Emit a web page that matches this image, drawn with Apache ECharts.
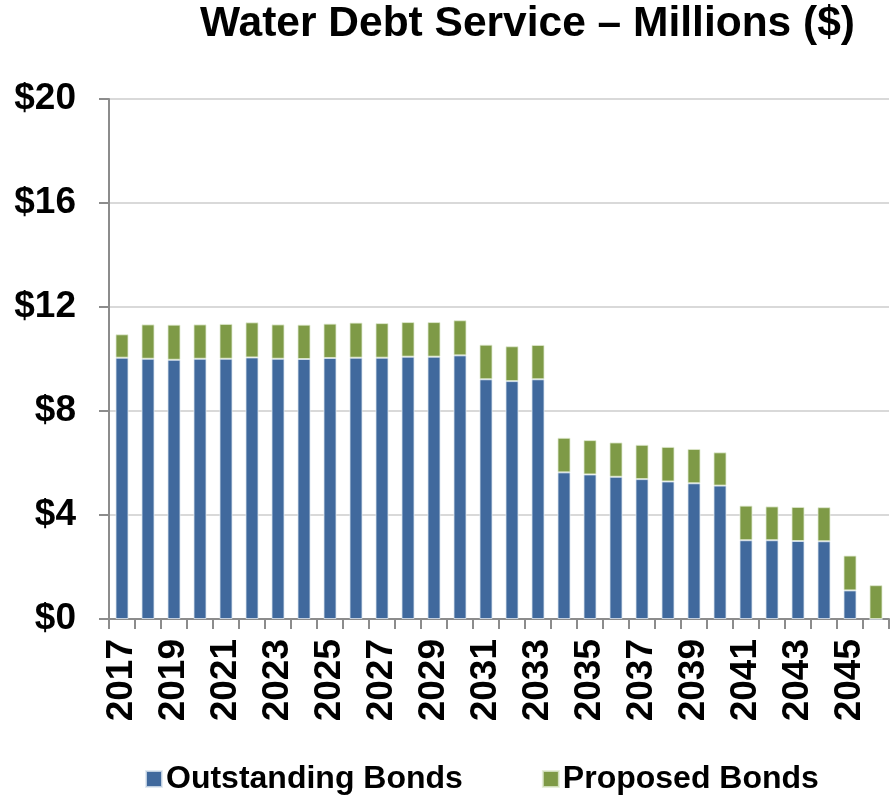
<!DOCTYPE html>
<html>
<head>
<meta charset="utf-8">
<script src="https://cdn.jsdelivr.net/npm/echarts@6/dist/echarts.min.js"></script>
<style>html,body{margin:0;padding:0;background:#fff;}#chart{width:891px;height:795px;}</style>
</head>
<body>
<div id="chart"></div>
<script>
var years = ['2017','2018','2019','2020','2021','2022','2023','2024','2025','2026','2027','2028','2029','2030','2031','2032','2033','2034','2035','2036','2037','2038','2039','2040','2041','2042','2043','2044','2045','2046'];
var outstandingBonds = [10.05,10.01,9.97,10.01,10.01,10.06,10.01,10.00,10.04,10.05,10.05,10.09,10.09,10.14,9.22,9.15,9.22,5.64,5.56,5.47,5.38,5.29,5.22,5.13,3.03,3.03,3.00,2.99,1.10,0];
var proposedBonds = [0.90,1.32,1.35,1.32,1.34,1.35,1.32,1.32,1.32,1.35,1.33,1.33,1.33,1.35,1.33,1.34,1.32,1.33,1.32,1.32,1.32,1.33,1.32,1.28,1.33,1.30,1.31,1.31,1.34,1.30];
var yTicks = [0,4,8,12,16,20];

var FONT = "'Liberation Sans', Arial, Helvetica, sans-serif";
var chart = echarts.init(document.getElementById('chart'), null, {renderer:'canvas'});
chart.setOption({
  animation: false,
  backgroundColor: '#ffffff',
  title: {
    text: 'Water Debt Service \u2013 Millions ($)',
    left: 195, top: -2,
    textStyle: {fontFamily: FONT, fontSize: 42.5, fontWeight: 'bold', color: '#000'}
  },
  legend: {
    left: 140, top: 758,
    itemWidth: 16, itemHeight: 16, itemGap: 79,
    icon: 'rect',
    textStyle: {fontFamily: FONT, fontSize: 32, fontWeight: 'bold', color: '#000', padding:[0,0,0,-1]},
    data: ['Outstanding Bonds','Proposed Bonds']
  },
  grid: {left: 109, right: 2, top: 99, bottom: 176, containLabel: false},
  xAxis: {
    type: 'category',
    data: years,
    boundaryGap: true,
    axisLine: {show: true, lineStyle: {color: '#8c8c8c', width: 2}},
    axisTick: {show: true, interval: 0, length: 10, alignWithLabel: false, lineStyle: {color: '#8c8c8c', width: 2}},
    axisLabel: {interval: 1, rotate: 90, margin: 20, fontFamily: FONT, fontSize: 37, fontWeight: 'bold', color: '#000'}
  },
  yAxis: {
    type: 'value',
    min: yTicks[0], max: yTicks[yTicks.length-1], interval: 4,
    axisLine: {show: true, lineStyle: {color: '#8c8c8c', width: 2}},
    axisTick: {show: true, length: 10, lineStyle: {color: '#8c8c8c', width: 2}},
    splitLine: {show: true, lineStyle: {color: '#d9d9d9', width: 2}},
    axisLabel: {margin: 33, fontFamily: FONT, fontSize: 37, fontWeight: 'bold', color: '#000',
      formatter: function(v){ return '$' + v; }}
  },
  series: [
    {name: 'Outstanding Bonds', type: 'bar', stack: 'total', data: outstandingBonds, barWidth: '50%',
     itemStyle: {color: '#40699d', borderColor: 'rgba(220,230,240,0.8)', borderWidth: 1}},
    {name: 'Proposed Bonds', type: 'bar', stack: 'total', data: proposedBonds, barWidth: '50%',
     itemStyle: {color: '#7e9a46', borderColor: 'rgba(225,235,210,0.8)', borderWidth: 1}}
  ]
});
</script>
</body>
</html>
